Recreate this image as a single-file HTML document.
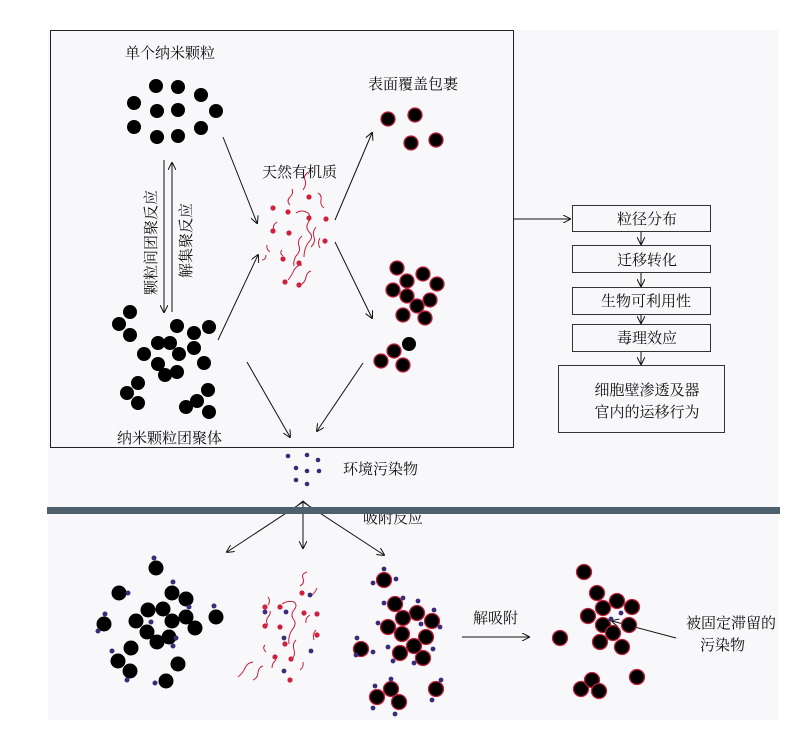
<!DOCTYPE html>
<html><head><meta charset="utf-8"><style>
html,body{margin:0;padding:0;background:#fff;}
svg{display:block;}
text{font-family:"Liberation Serif","Noto Serif CJK SC","Noto Sans CJK SC",serif;font-size:15px;fill:#111;}
</style></head><body>
<svg width="803" height="735" viewBox="0 0 803 735" xmlns="http://www.w3.org/2000/svg">
<defs>
<marker id="a" markerWidth="8" markerHeight="8" refX="7" refY="4" orient="auto" markerUnits="userSpaceOnUse">
<path d="M0,0 L8,4 L0,8" fill="none" stroke="#111" stroke-width="1"/></marker>
</defs>
<rect x="48" y="30" width="730" height="690" fill="#f8f8fa"/>
<rect x="50.5" y="30.5" width="463" height="417" fill="#f8f8fa" stroke="#222" stroke-width="1"/>

<text x="125" y="58">单个纳米颗粒</text>
<text x="368" y="89">表面覆盖包裹</text>
<text x="262" y="177">天然有机质</text>
<text x="117" y="443">纳米颗粒团聚体</text>
<text x="343" y="474">环境污染物</text>
<text x="363" y="523">吸附反应</text>
<text x="473" y="623">解吸附</text>
<text x="686" y="628">被固定滞留的</text>
<text x="700" y="650">污染物</text>
<text transform="translate(156,295) rotate(-90)">颗粒间团聚反应</text>
<text transform="translate(191,278) rotate(-90)">解集聚反应</text>

<line x1="164" y1="160" x2="164" y2="312" stroke="#111" marker-end="url(#a)"/>
<line x1="172" y1="312" x2="172" y2="163" stroke="#111" marker-end="url(#a)"/>
<g stroke="#111" stroke-width="1" marker-end="url(#a)">
<line x1="223" y1="137" x2="257" y2="223"/>
<line x1="218" y1="340" x2="258" y2="255"/>
<line x1="335" y1="220" x2="372" y2="133"/>
<line x1="335" y1="242" x2="372" y2="318"/>
<line x1="247" y1="362" x2="290" y2="437"/>
<line x1="363" y1="363" x2="317" y2="431"/>
<line x1="513" y1="219" x2="570" y2="219"/>
<line x1="641" y1="231" x2="641" y2="244"/>
<line x1="641" y1="272" x2="641" y2="286"/>
<line x1="641" y1="314" x2="641" y2="323"/>
<line x1="641" y1="351" x2="641" y2="364"/>
<line x1="303" y1="502" x2="227" y2="552"/>
<line x1="303" y1="502" x2="303" y2="548"/>
<line x1="303" y1="502" x2="384" y2="555"/>
<line x1="462" y1="637" x2="529" y2="637"/>
<line x1="676" y1="638" x2="612" y2="621"/>
</g>

<g fill="#f8f8fa" stroke="#333" stroke-width="1">
<rect x="572.5" y="205.5" width="138" height="26"/>
<rect x="572.5" y="245.5" width="138" height="27"/>
<rect x="572.5" y="287.5" width="138" height="27"/>
<rect x="572.5" y="324.5" width="138" height="27"/>
<rect x="558.5" y="365.5" width="166" height="67"/>
</g>
<g text-anchor="middle">
<text x="647" y="224">粒径分布</text>
<text x="647" y="265">迁移转化</text>
<text x="646" y="306">生物可利用性</text>
<text x="647" y="343">毒理效应</text>
<text x="647" y="395">细胞壁渗透及器</text>
<text x="647" y="417">官内的运移行为</text>
</g>

<g fill="#000">
<circle cx="156" cy="86" r="7"/><circle cx="178" cy="87" r="7"/><circle cx="201" cy="95" r="7"/>
<circle cx="134" cy="103" r="7"/><circle cx="157" cy="111" r="7"/><circle cx="178" cy="110" r="7"/>
<circle cx="216" cy="111" r="7"/><circle cx="134" cy="127" r="7"/><circle cx="157" cy="137" r="7"/>
<circle cx="178" cy="136" r="7"/><circle cx="201" cy="128" r="7"/>
<circle cx="130" cy="312" r="7"/><circle cx="119" cy="324" r="7"/><circle cx="130" cy="335" r="7"/>
<circle cx="177" cy="326" r="7"/><circle cx="194" cy="333" r="7"/><circle cx="209" cy="327" r="7"/>
<circle cx="158" cy="343" r="7"/><circle cx="170" cy="343" r="7"/><circle cx="144" cy="354" r="7"/>
<circle cx="179" cy="354" r="7"/><circle cx="194" cy="348" r="7"/><circle cx="158" cy="364" r="7"/>
<circle cx="165" cy="375" r="7"/><circle cx="177" cy="372" r="7"/><circle cx="204" cy="363" r="7"/>
<circle cx="138" cy="383" r="7"/><circle cx="127" cy="393" r="7"/><circle cx="138" cy="403" r="7"/>
<circle cx="208" cy="390" r="7"/><circle cx="197" cy="401" r="7"/><circle cx="186" cy="407" r="7"/>
<circle cx="209" cy="412" r="7"/>
</g>
<g fill="#000" stroke="#c0203a" stroke-width="1.3">
<circle cx="388" cy="119" r="7"/><circle cx="415" cy="115" r="7"/><circle cx="411" cy="143" r="7"/><circle cx="436" cy="140" r="7"/>
<circle cx="397" cy="268" r="7"/><circle cx="423" cy="274" r="7"/><circle cx="407" cy="281" r="7"/><circle cx="437" cy="284" r="7"/>
<circle cx="393" cy="290" r="7"/><circle cx="407" cy="296" r="7"/><circle cx="417" cy="306" r="7"/><circle cx="430" cy="300" r="7"/>
<circle cx="403" cy="315" r="7"/><circle cx="425" cy="318" r="7"/>
<circle cx="409" cy="344" r="7" stroke="none"/><circle cx="394" cy="351" r="7"/><circle cx="381" cy="361" r="7"/><circle cx="403" cy="365" r="7"/>
</g>
<g fill="none" stroke="#c0203a" stroke-width="1">
<path d="M303,190 q4,-6 2,-10 q-2,-4 3,-8"/><path d="M318,193 q4,2 3,7 q-1,5 3,8"/>
<path d="M290,205 q-4,-4 0,-8 q4,-4 2,-8"/><path d="M296,213 q6,-4 12,0 q4,4 0,10 q-3,5 2,10 q4,4 -2,10 q-4,6 -4,14"/>
<path d="M277,222 q-5,3 -3,8"/><path d="M316,227 q-4,5 -2,10 q2,5 -3,10"/>
<path d="M267,245 q-1,4 3,7"/><path d="M282,250 q-3,3 1,6"/>
<path d="M302,236 q-5,4 -3,10 q2,5 -3,10 q-3,5 -2,10"/><path d="M320,238 q-3,5 0,10"/>
<path d="M288,280 q4,-5 6,-10 q3,-5 8,-5"/><path d="M300,285 q5,-2 6,-8 q1,-5 5,-6"/>
<path d="M262,260 q4,0 4,-5"/>
</g>
<g fill="#d02040">
<circle cx="309" cy="197" r="2.6"/><circle cx="273" cy="208" r="2.6"/><circle cx="288" cy="212" r="2.6"/>
<circle cx="309" cy="218" r="2.6"/><circle cx="326" cy="219" r="2.6"/><circle cx="273" cy="231" r="2.6"/>
<circle cx="289" cy="233" r="2.6"/><circle cx="325" cy="241" r="2.6"/><circle cx="283" cy="259" r="2.6"/>
<circle cx="299" cy="263" r="2.6"/><circle cx="285" cy="282" r="2.6"/><circle cx="299" cy="285" r="2.6"/>
</g>
<g fill="#3a2a78">
<circle cx="288" cy="456" r="2.3"/><circle cx="307" cy="455" r="2.3"/><circle cx="318" cy="460" r="2.3"/>
<circle cx="296" cy="468" r="2.3"/><circle cx="307" cy="471" r="2.3"/><circle cx="319" cy="471" r="2.3"/>
<circle cx="296" cy="480" r="2.3"/><circle cx="307" cy="484" r="2.3"/>
</g>

<rect x="47" y="507" width="733" height="7" fill="#4d606c"/>
<path d="M297,506 L303,501 L309,506" fill="none" stroke="#111"/>

<g fill="#000">
<circle cx="156" cy="568" r="7.5"/><circle cx="119" cy="593" r="7.5"/><circle cx="172" cy="593" r="7.5"/>
<circle cx="186" cy="599" r="7.5"/><circle cx="148" cy="610" r="7.5"/><circle cx="163" cy="609" r="7.5"/>
<circle cx="216" cy="617" r="7.5"/><circle cx="104" cy="624" r="7.5"/><circle cx="136" cy="621" r="7.5"/>
<circle cx="172" cy="621" r="7.5"/><circle cx="186" cy="617" r="7.5"/><circle cx="195" cy="628" r="7.5"/>
<circle cx="147" cy="632" r="7.5"/><circle cx="169" cy="637" r="7.5"/><circle cx="157" cy="642" r="7.5"/>
<circle cx="131" cy="648" r="7.5"/><circle cx="118" cy="661" r="7.5"/><circle cx="130" cy="671" r="7.5"/>
<circle cx="178" cy="664" r="7.5"/><circle cx="166" cy="681" r="7.5"/>
</g>
<g fill="#3a2a78">
<circle cx="154" cy="558" r="2.5"/><circle cx="173" cy="582" r="2.5"/><circle cx="128" cy="593" r="2.5"/>
<circle cx="189" cy="607" r="2.5"/><circle cx="214" cy="606" r="2.5"/><circle cx="105" cy="614" r="2.5"/>
<circle cx="98" cy="631" r="2.5"/><circle cx="151" cy="622" r="2.5"/><circle cx="176" cy="638" r="2.5"/>
<circle cx="173" cy="646" r="2.5"/><circle cx="112" cy="651" r="2.5"/><circle cx="127" cy="680" r="2.5"/>
<circle cx="155" cy="683" r="2.5"/>
</g>
<g fill="none" stroke="#c0203a" stroke-width="1">
<path d="M300,586 q5,-3 3,-8 q-2,-4 4,-6"/><path d="M311,596 q4,-3 6,-8"/>
<path d="M268,605 q3,-4 0,-8"/><path d="M282,604 q6,-4 12,-2 q4,3 0,8 q-4,5 0,10 q3,4 -2,10 q-4,6 -3,14"/>
<path d="M268,625 q-3,-4 0,-8 q3,-3 2,-6"/><path d="M316,630 q-4,4 -2,10"/>
<path d="M310,615 q-5,3 -4,8"/><path d="M296,640 q-4,4 -2,10 q2,5 -3,10"/>
<path d="M265,645 q-3,3 1,7"/><path d="M276,660 q-4,3 -4,8"/>
<path d="M238,677 q5,-4 7,-9 q2,-5 8,-6"/><path d="M253,680 q5,-2 5,-8 q1,-5 5,-6"/>
<path d="M300,670 q4,-3 3,-8"/>
</g>
<g fill="#d02040">
<circle cx="302" cy="593" r="2.6"/><circle cx="265" cy="607" r="2.6"/><circle cx="280" cy="607" r="2.6"/>
<circle cx="304" cy="613" r="2.6"/><circle cx="317" cy="614" r="2.6"/><circle cx="265" cy="626" r="2.6"/>
<circle cx="280" cy="627" r="2.6"/><circle cx="317" cy="635" r="2.6"/><circle cx="285" cy="644" r="2.6"/>
<circle cx="275" cy="657" r="2.6"/><circle cx="291" cy="659" r="2.6"/><circle cx="290" cy="680" r="2.6"/>
</g>
<g fill="#3a2a78">
<circle cx="310" cy="595" r="2.4"/><circle cx="265" cy="612" r="2.4"/><circle cx="286" cy="612" r="2.4"/>
<circle cx="284" cy="638" r="2.4"/><circle cx="311" cy="651" r="2.4"/><circle cx="284" cy="671" r="2.4"/>
</g>
<g fill="#000" stroke="#c0203a" stroke-width="1.3">
<circle cx="384" cy="580" r="7.5"/><circle cx="395" cy="604" r="7.5"/><circle cx="417" cy="613" r="7.5"/>
<circle cx="403" cy="618" r="7.5"/><circle cx="432" cy="621" r="7.5"/><circle cx="388" cy="627" r="7.5"/>
<circle cx="402" cy="634" r="7.5"/><circle cx="426" cy="637" r="7.5"/><circle cx="361" cy="649" r="7.5"/>
<circle cx="414" cy="646" r="7.5"/><circle cx="400" cy="653" r="7.5"/><circle cx="423" cy="658" r="7.5"/>
<circle cx="377" cy="697" r="7.5"/><circle cx="391" cy="689" r="7.5"/><circle cx="399" cy="702" r="7.5"/>
<circle cx="436" cy="689" r="7.5"/>
</g>
<g fill="#3a2a78">
<circle cx="384" cy="569" r="2.4"/><circle cx="373" cy="583" r="2.4"/><circle cx="396" cy="579" r="2.4"/>
<circle cx="384" cy="603" r="2.4"/><circle cx="403" cy="598" r="2.4"/><circle cx="418" cy="601" r="2.4"/>
<circle cx="434" cy="610" r="2.4"/><circle cx="378" cy="623" r="2.4"/><circle cx="421" cy="624" r="2.4"/>
<circle cx="440" cy="627" r="2.4"/><circle cx="357" cy="638" r="2.4"/><circle cx="373" cy="652" r="2.4"/>
<circle cx="356" cy="655" r="2.4"/><circle cx="388" cy="647" r="2.4"/><circle cx="433" cy="649" r="2.4"/>
<circle cx="393" cy="661" r="2.4"/><circle cx="414" cy="663" r="2.4"/><circle cx="375" cy="686" r="2.4"/>
<circle cx="391" cy="679" r="2.4"/><circle cx="441" cy="680" r="2.4"/><circle cx="373" cy="708" r="2.4"/>
<circle cx="432" cy="700" r="2.4"/><circle cx="395" cy="714" r="2.4"/>
</g>
<g fill="#000" stroke="#c0203a" stroke-width="1.3">
<circle cx="584" cy="572" r="7.5"/><circle cx="597" cy="593" r="7.5"/><circle cx="617" cy="601" r="7.5"/>
<circle cx="603" cy="608" r="7.5"/><circle cx="632" cy="607" r="7.5"/><circle cx="588" cy="616" r="7.5"/>
<circle cx="603" cy="625" r="7.5"/><circle cx="629" cy="625" r="7.5"/><circle cx="560" cy="638" r="7.5"/>
<circle cx="613" cy="633" r="7.5"/><circle cx="600" cy="642" r="7.5"/><circle cx="622" cy="647" r="7.5"/>
<circle cx="581" cy="689" r="7.5"/><circle cx="592" cy="680" r="7.5"/><circle cx="599" cy="691" r="7.5"/>
<circle cx="637" cy="677" r="7.5"/>
</g>
<g fill="#3a2a78"><circle cx="611" cy="619" r="2.4"/><circle cx="621" cy="613" r="2.4"/></g>
</svg>
</body></html>
